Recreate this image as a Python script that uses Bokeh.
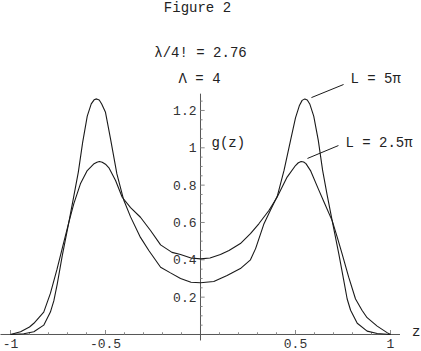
from bokeh.plotting import figure
from bokeh.models import ColumnDataSource, Range1d
from bokeh.core.properties import value
from bokeh.embed import file_html
from bokeh.resources import INLINE

# ---- data ----
z_L5 = [-1.0, -0.93, -0.877, -0.825, -0.79, -0.772, -0.754, -0.728, -0.693, -0.667,
        -0.643, -0.62, -0.596, -0.575, -0.56, -0.547, -0.533, -0.52, -0.5, -0.474,
        -0.44, -0.404, -0.368, -0.316, -0.272, -0.21, -0.158, -0.105, -0.05, 0.0,
        0.07, 0.14, 0.21, 0.263, 0.29, 0.333, 0.368, 0.404, 0.44, 0.474,
        0.5, 0.52, 0.535, 0.549, 0.562, 0.575, 0.596, 0.62, 0.643, 0.667,
        0.693, 0.728, 0.754, 0.772, 0.79, 0.825, 0.877, 0.93, 1.0]
g_L5 = [0.0, 0.004, 0.015, 0.05, 0.12, 0.18, 0.27, 0.42, 0.6, 0.74,
        0.87, 1.03, 1.17, 1.235, 1.257, 1.262, 1.256, 1.235, 1.19, 1.05,
        0.86, 0.72, 0.63, 0.52, 0.45, 0.36, 0.33, 0.30, 0.28, 0.277,
        0.284, 0.316, 0.353, 0.40, 0.46, 0.59, 0.665, 0.74, 0.88, 1.04,
        1.16, 1.225, 1.254, 1.262, 1.256, 1.235, 1.17, 1.04, 0.878, 0.745,
        0.61, 0.432, 0.29, 0.19, 0.13, 0.06, 0.018, 0.005, 0.0]

z_L25 = [-1.0, -0.947, -0.9, -0.877, -0.825, -0.79, -0.755, -0.728, -0.693, -0.667,
         -0.632, -0.596, -0.56, -0.545, -0.532, -0.517, -0.5, -0.482, -0.447, -0.412,
         -0.368, -0.316, -0.263, -0.21, -0.15, -0.105, -0.05, 0.0, 0.05, 0.105,
         0.15, 0.21, 0.263, 0.307, 0.36, 0.403, 0.456, 0.5, 0.515, 0.53,
         0.543, 0.555, 0.579, 0.62, 0.65, 0.693, 0.72, 0.745, 0.78, 0.816,
         0.85, 0.877, 0.93, 0.982, 1.0]
g_L25 = [0.0, 0.015, 0.04, 0.06, 0.12, 0.22, 0.35, 0.46, 0.6, 0.7,
         0.807, 0.878, 0.915, 0.923, 0.927, 0.923, 0.912, 0.893, 0.825, 0.735,
         0.68, 0.628, 0.557, 0.48, 0.44, 0.428, 0.41, 0.405, 0.41, 0.428,
         0.45, 0.487, 0.54, 0.593, 0.664, 0.735, 0.843, 0.905, 0.92, 0.927,
         0.924, 0.915, 0.878, 0.78, 0.71, 0.61, 0.52, 0.433, 0.307, 0.19,
         0.13, 0.09, 0.045, 0.01, 0.0]

x_major = [-1.0, -0.5, 0.5, 1.0]
x_labels = ["-1", "-0.5", "0.5", "1"]
x_minor = [-0.9, -0.8, -0.7, -0.6, -0.4, -0.3, -0.2, -0.1,
           0.1, 0.2, 0.3, 0.4, 0.6, 0.7, 0.8, 0.9]
y_major = [0.2, 0.4, 0.6, 0.8, 1.0, 1.2]
y_labels = ["0.2", "0.4", "0.6", "0.8", "1", "1.2"]
y_minor = [0.05, 0.1, 0.15, 0.25, 0.3, 0.35, 0.45, 0.5, 0.55, 0.65, 0.7, 0.75,
           0.85, 0.9, 0.95, 1.05, 1.1, 1.15, 1.25]

title_text = "Figure 2"
param1 = "λ/4! = 2.76"
param2 = "Λ = 4"
ylabel_text = "g(z)"
xlabel_text = "z"
label_L5 = "L = 5π"
label_L25 = "L = 2.5π"

FONT = value("Liberation Mono")
SHIFT = 0.026  # baseline correction (data units)

p = figure(width=421, height=351, output_backend="svg", toolbar_location=None,
           x_range=Range1d(-1.0526, 1.1632), y_range=Range1d(-0.0911, 1.789),
           min_border=0)
p.xaxis.visible = False
p.yaxis.visible = False
p.xgrid.visible = False
p.ygrid.visible = False
p.outline_line_color = None
p.background_fill_color = "white"

axis_col = "#555555"
tick_col = "#8a8a8a"

# axes lines
p.segment(x0=[-1.06], y0=[0], x1=[1.05], y1=[0], line_color=axis_col, line_width=1)
p.segment(x0=[0], y0=[-0.032], x1=[0], y1=[1.29], line_color=axis_col, line_width=1)

# x ticks (pointing up)
p.segment(x0=x_major, y0=[0] * len(x_major), x1=x_major, y1=[0.024] * len(x_major),
          line_color=tick_col, line_width=1)
p.segment(x0=x_minor, y0=[0] * len(x_minor), x1=x_minor, y1=[0.012] * len(x_minor),
          line_color=tick_col, line_width=1)
# y ticks (pointing right)
p.segment(x0=[0] * len(y_major), y0=y_major, x1=[0.022] * len(y_major), y1=y_major,
          line_color=tick_col, line_width=1)
p.segment(x0=[0] * len(y_minor), y0=y_minor, x1=[0.011] * len(y_minor), y1=y_minor,
          line_color=tick_col, line_width=1)

# tick labels
xsrc = ColumnDataSource(dict(x=x_major, y=[-0.075 + SHIFT] * len(x_major), t=x_labels))
p.text(x="x", y="y", text="t", source=xsrc, text_font=FONT,
       text_font_size="13px", text_align="center", text_baseline="alphabetic",
       text_color="#333333")
ysrc = ColumnDataSource(dict(x=[-0.021] * len(y_major), y=y_major, t=y_labels))
p.text(x="x", y="y", text="t", source=ysrc, text_font=FONT,
       text_font_size="13px", text_align="right", text_baseline="middle",
       text_color="#333333")

# curves
p.line(z_L5, g_L5, line_color="#1a1a1a", line_width=1.1)
p.line(z_L25, g_L25, line_color="#1a1a1a", line_width=1.1)

# leader lines
p.segment(x0=[0.584, 0.563], y0=[1.269, 0.943], x1=[0.753, 0.726], y1=[1.339, 1.012],
          line_color="#1a1a1a", line_width=1)

# texts
def txt(x, y, s, align="left", size="14px"):
    p.text(x=[x], y=[y + SHIFT], text=[s], text_font=FONT, text_font_size=size,
           text_align=align, text_baseline="alphabetic", text_color="#222222")

txt(-0.016, 1.724, title_text, "center")
txt(0.0, 1.481, param1, "center")
txt(-0.005, 1.344, param2, "center")
txt(0.058, 1.0016, ylabel_text)
txt(0.789, 1.344, label_L5)
txt(0.763, 1.0016, label_L25)
txt(1.158, -0.0107, xlabel_text, "right")

open("out.html", "w").write(file_html(p, INLINE))
